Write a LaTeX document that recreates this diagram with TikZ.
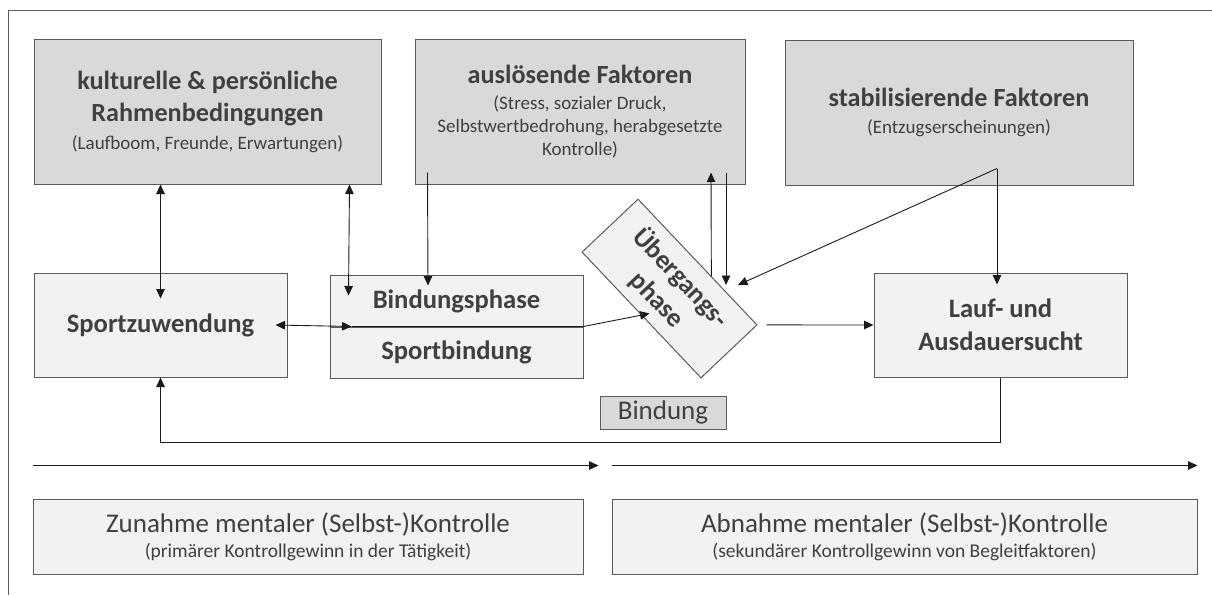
\documentclass[tikz,border=0pt]{standalone}
\usepackage{fontspec}
\setmainfont{Carlito}
\usetikzlibrary{arrows.meta,calc}
\definecolor{boxdark}{HTML}{D9D9D9}
\definecolor{boxlight}{HTML}{F2F2F2}
\definecolor{edgegray}{HTML}{5A5A5A}
\definecolor{ink}{HTML}{404040}
\definecolor{wire}{HTML}{1A1A1A}
\newcommand\hdtext[1]{{\bfseries\fontsize{26.2}{29}\selectfont #1}}
\newcommand\bigtext[1]{{\bfseries\fontsize{26.6}{31}\selectfont #1}}
\newcommand\plaintext[1]{{\fontsize{27}{31}\selectfont #1}}
\newcommand\smalltext[1]{{\fontsize{19.5}{23}\selectfont #1}}
\tikzset{hd/.tip={Triangle[length=9.5pt,width=8.5pt]}}

\begin{document}
\begin{tikzpicture}[x=1pt,y=-1pt,
  box/.style={draw=edgegray,line width=1pt,inner sep=0pt,align=center,text=ink,
              font={\fontsize{19}{23}\selectfont\lineskiplimit=-100pt}},
  darkbox/.style={box,fill=boxdark},
  lightbox/.style={box,fill=boxlight},
  arr/.style={-hd,line width=0.9pt,draw=wire},
  darr/.style={hd-hd,line width=0.9pt,draw=wire},
  frameline/.style={draw=edgegray,line width=1pt}
]
\useasboundingbox (0,0) rectangle (1212,595);

% outer frame (top and left rule)
\draw[frameline] (1212,10) -- (8,10) -- (8,595);

% top row: framework conditions and factors
\node[darkbox,minimum width=347pt,minimum height=145pt] (kult) at (207.5,111.5)
  {\hdtext{kulturelle \& persönliche}\\[9pt]\hdtext{Rahmenbedingungen}\\[5pt](Laufboom, Freunde, Erwartungen)};
\node[darkbox,minimum width=330pt,minimum height=145pt] (ausl) at (580,111.5)
  {\hdtext{auslösende Faktoren}\\[3pt](Stress, sozialer Druck,\\Selbstwertbedrohung, herabgesetzte\\Kontrolle)};
\node[darkbox,minimum width=348pt,minimum height=145pt] (stab) at (959,112.5)
  {\hdtext{stabilisierende Faktoren}\\[4pt](Entzugserscheinungen)};

% middle row: phases
\node[lightbox,minimum width=253pt,minimum height=104pt] (sz) at (160.5,325)
  {\bigtext{Sportzuwendung}};
\node[lightbox,minimum width=253pt,minimum height=52pt] (bp) at (456.5,301)
  {\bigtext{Bindungsphase}};
\node[lightbox,minimum width=253pt,minimum height=51pt] (sb) at (456.5,352.5)
  {\bigtext{Sportbindung}};
\node[lightbox,minimum width=173pt,minimum height=77pt,rotate=-46.6] (ueb) at (669.5,288.5)
  {\bigtext{Übergangs-}\\[9pt]\bigtext{phase}};
\node[lightbox,minimum width=253pt,minimum height=104pt] (lauf) at (1000.5,325)
  {\bigtext{Lauf- und}\\[10pt]\bigtext{Ausdauersucht}};
\node[darkbox,minimum width=126pt,minimum height=33pt] (bind) at (663,412.5)
  {\plaintext{Bindung}};

% bottom row: development of mental control
\node[lightbox,minimum width=550pt,minimum height=75pt] (zun) at (308,536.5)
  {\plaintext{Zunahme mentaler (Selbst-)Kontrolle}\\[2pt]\smalltext{(primärer Kontrollgewinn in der Tätigkeit)}};
\node[lightbox,minimum width=585pt,minimum height=75pt] (abn) at (904.5,536.5)
  {\plaintext{Abnahme mentaler (Selbst-)Kontrolle}\\[2pt]\smalltext{(sekundärer Kontrollgewinn von Begleitfaktoren)}};

% connector end points
\coordinate (uebUp) at ($(ueb.north west)!0.613!(ueb.north east)$);
\coordinate (auslIn) at ([xshift=131pt,yshift=12pt]ausl.south);
\coordinate (auslOut) at ([xshift=146pt,yshift=12pt]ausl.south);
\coordinate (stabOut) at ([xshift=38pt,yshift=17pt]stab.south);
\coordinate (uebIn) at ([shift={(-20,25)}]ueb.center);
\coordinate (uebTop) at ([shift={(56.5,-3.5)}]ueb.center);
\coordinate (uebRight) at ([shift={(68.5,-3.5)}]ueb.center);
\coordinate (uebOut) at ([xshift=9pt]ueb.north east);

% links between the framework box and the first phases
\draw[darr] (kult.south -| sz.north) -- ([yshift=-26pt]sz.north);
\draw[darr] ([xshift=-32pt]kult.south east) -- ([xshift=19pt,yshift=-21pt]bp.north west);
\draw[arr] ([xshift=13pt,yshift=12pt]ausl.south west) -- ([xshift=-28.5pt,yshift=-11pt]bp.north);

% links around the transition phase
\draw[arr] (uebUp) -- (auslIn);
\draw[arr] (auslOut) -- (auslOut |- uebTop);
\draw[arr] (stabOut) -- (uebRight);
\draw[arr] (stabOut) -- ([yshift=-12pt]stabOut |- lauf.north);
\draw[arr] (uebOut) -- (lauf.west);

% flow through the binding phase
\draw[darr] ([xshift=-12pt]sz.east) -- ([xshift=22pt]sb.north west);
\draw[arr] ([xshift=22pt]sb.north west) -- (sb.north east) -- (uebIn);

% feedback from addiction back to the first phase
\draw[arr] (lauf.south) -- ++(0,65) -| (sz.south);

% time axes
\draw[arr] ([yshift=33pt]zun.north west) -- ([xshift=15pt,yshift=33pt]zun.north east);
\draw[arr] ([yshift=33pt]abn.north west) -- ([yshift=33pt]abn.north east);
\end{tikzpicture}
\end{document}
